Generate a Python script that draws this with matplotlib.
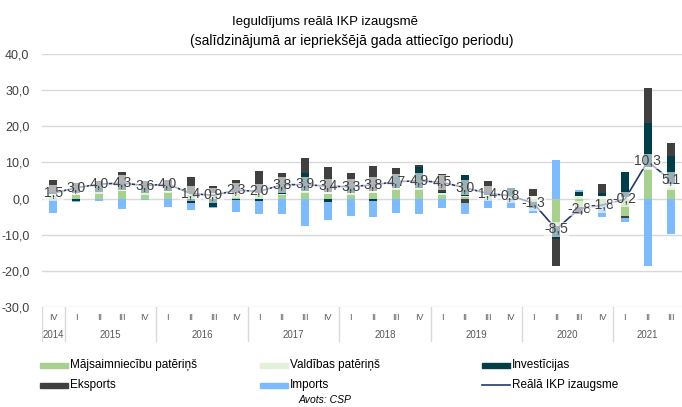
import numpy as np
import matplotlib
matplotlib.use("Agg")
import matplotlib.pyplot as plt
from matplotlib.patches import Rectangle
from matplotlib.lines import Line2D

plt.rcParams['font.family'] = ['Liberation Sans', 'DejaVu Sans']

# --- DATA ---
quarters = ["IV"] + ["I", "II", "III", "IV"] * 6 + ["I", "II", "III"]
years = ["2014", "2015", "2016", "2017", "2018", "2019", "2020", "2021"]
year_len = [1, 4, 4, 4, 4, 4, 4, 3]

gdp = [1.5, 3.0, 4.0, 4.3, 3.6, 4.0, 1.4, 0.9, 2.3, 2.0, 3.8, 3.9, 3.4, 3.3,
       3.8, 4.7, 4.9, 4.5, 3.0, 1.4, 0.8, -1.3, -8.5, -2.8, -1.8, -0.2, 10.3, 5.1]
households = [0.8, 1.0, 1.3, 2.0, 1.0, 1.6, 1.0, 1.0, 1.2, 1.1, 0.9, 1.6, 1.4, 1.1,
              1.5, 2.3, 2.3, 1.0, 0.4, 0.6, 0.5, -1.0, -7.2, -2.2, -1.8, -4.9, 8.0, 2.5]
government = [0.4, 0.6, 0.4, 0.5, 0.6, 0.6, 0.5, 0.5, 0.4, 0.5, 0.5, 0.5, 0.5, 0.5,
              0.5, 0.6, 0.5, 0.5, 0.3, 0.4, 0.4, 0.8, -0.3, 0.6, 0.8, 0.5, 0.8, 1.5]
investment = [0.5, -0.7, 1.2, 1.8, 1.2, 0.8, -1.2, -2.4, -0.3, -0.7, 2.0, 5.0, -1.0, 1.5,
              -0.7, 3.0, 5.8, 0.3, 5.9, 0.5, 2.0, -1.5, -3.8, 1.2, 0.8, 6.8, 12.1, 7.9]
exports = [3.3, 2.7, 2.0, 3.0, 2.0, 2.0, 4.5, 2.1, 3.5, 5.9, 3.7, 4.1, 6.8, 4.0,
           7.1, 2.6, 0.8, 5.1, -1.3, 3.3, -0.3, 1.9, -7.4, -2.2, 2.5, -0.5, 9.7, 3.5]
imports = [-4.0, -0.3, -0.7, -3.0, -0.5, -2.3, -2.1, -0.3, -3.4, -3.7, -4.4, -7.5, -4.8, -4.9,
           -4.4, -4.1, -4.4, -2.6, -2.9, -2.6, -2.3, -1.5, 10.8, 0.6, -3.2, -1.1, -18.7, -9.8]

series = [
    ("Mājsaimniecību patēriņš", households, "#a9d18e"),
    ("Valdības patēriņš", government, "#e2efd9"),
    ("Investīcijas", investment, "#003f48"),
    ("Eksports", exports, "#404040"),
    ("Imports", imports, "#7cbbff"),
]
line_name = "Reālā IKP izaugsme"
line_color = "#1f3a70"
txt = "#404040"

W, H = 682, 407
fig = plt.figure(figsize=(W / 100, H / 100), dpi=100)

def fx(px):
    return px / W

def fy(py):
    return 1 - py / H

# --- MAIN PLOT ---
ax = fig.add_axes([fx(42), fy(307), fx(640), (307 - 54) / H])
x = np.arange(len(gdp))
pos = np.zeros(len(x))
neg = np.zeros(len(x))
for name, vals, col in series:
    v = np.array(vals)
    bottom = np.where(v >= 0, pos, neg)
    ax.bar(x, v, 0.35, bottom=bottom, color=col, zorder=2)
    pos += np.where(v >= 0, v, 0)
    neg += np.where(v < 0, v, 0)

ax.plot(x, gdp, color=line_color, lw=1.2, zorder=3)
for xi, g in zip(x, gdp):
    ax.text(xi, g, f"{g:.1f}".replace(".", ","), ha="center", va="center",
            fontsize=10, color=txt, zorder=4,
            bbox=dict(boxstyle="square,pad=0.05", fc="white", ec="none", alpha=0.6))

ax.set_xlim(-0.5, len(x) - 0.5)
ax.set_ylim(-30, 40)
ax.set_yticks(np.arange(-30, 41, 10))
ax.set_yticklabels([f"{t:.1f}".replace(".", ",") for t in np.arange(-30, 41, 10)])
ax.tick_params(axis="y", length=0, labelsize=9, labelcolor=txt, pad=9)
ax.set_xticks([])
ax.yaxis.grid(True, color="#d9d9d9", lw=1)
ax.set_axisbelow(True)
for s in ax.spines.values():
    s.set_visible(False)

# --- CATEGORY AXIS ---
cax = fig.add_axes([fx(42), fy(342), fx(640), 35 / H])
cax.set_xlim(-0.5, len(x) - 0.5)
cax.set_ylim(0, 1)
cax.axis("off")
for xi, q in zip(x, quarters):
    cax.text(xi, 0.69, q, ha="center", va="center", fontsize=6.5, color="#595959")
start = 0
cax.axvline(-0.5, color="#d9d9d9", lw=1)
for yr, n in zip(years, year_len):
    cax.text(start + (n - 1) / 2, 0.2, yr, ha="center", va="center", fontsize=7, color="#595959")
    if start > 0:
        cax.axvline(start - 0.5, color="#d9d9d9", lw=1)
    start += n

# --- TITLE ---
fig.text(fx(325), fy(22), "Ieguldījums reālā IKP izaugsmē", ha="center", va="center",
         fontsize=9.5, color="black")
fig.text(fx(352), fy(41), "(salīdzinājumā ar iepriekšējā gada attiecīgo periodu)",
         ha="center", va="center", fontsize=10, color="black")

# --- LEGEND ---
cols = [40, 260, 482]
rows = [365, 385]
entries = [(s[0], s[2], "bar") for s in series] + [(line_name, line_color, "line")]
order = [(0, 0), (1, 0), (2, 0), (0, 1), (1, 1), (2, 1)]
for (name, col, kind), (c, r) in zip(entries, order):
    x0, y0 = cols[c], rows[r]
    if kind == "bar":
        fig.add_artist(Rectangle((fx(x0), fy(y0 + 2.5)), fx(28), 5 / H, color=col,
                                 transform=fig.transFigure))
    else:
        fig.add_artist(Line2D([fx(x0), fx(x0 + 28)], [fy(y0), fy(y0)], color=col, lw=1.2,
                              transform=fig.transFigure))
    fig.text(fx(x0 + 30), fy(y0), name, ha="left", va="center", fontsize=8.5, color="black")

fig.text(fx(325), fy(400), "Avots: CSP", ha="center", va="center", fontsize=7.5,
         style="italic", color="black")

fig.savefig("out.png", dpi=100)
